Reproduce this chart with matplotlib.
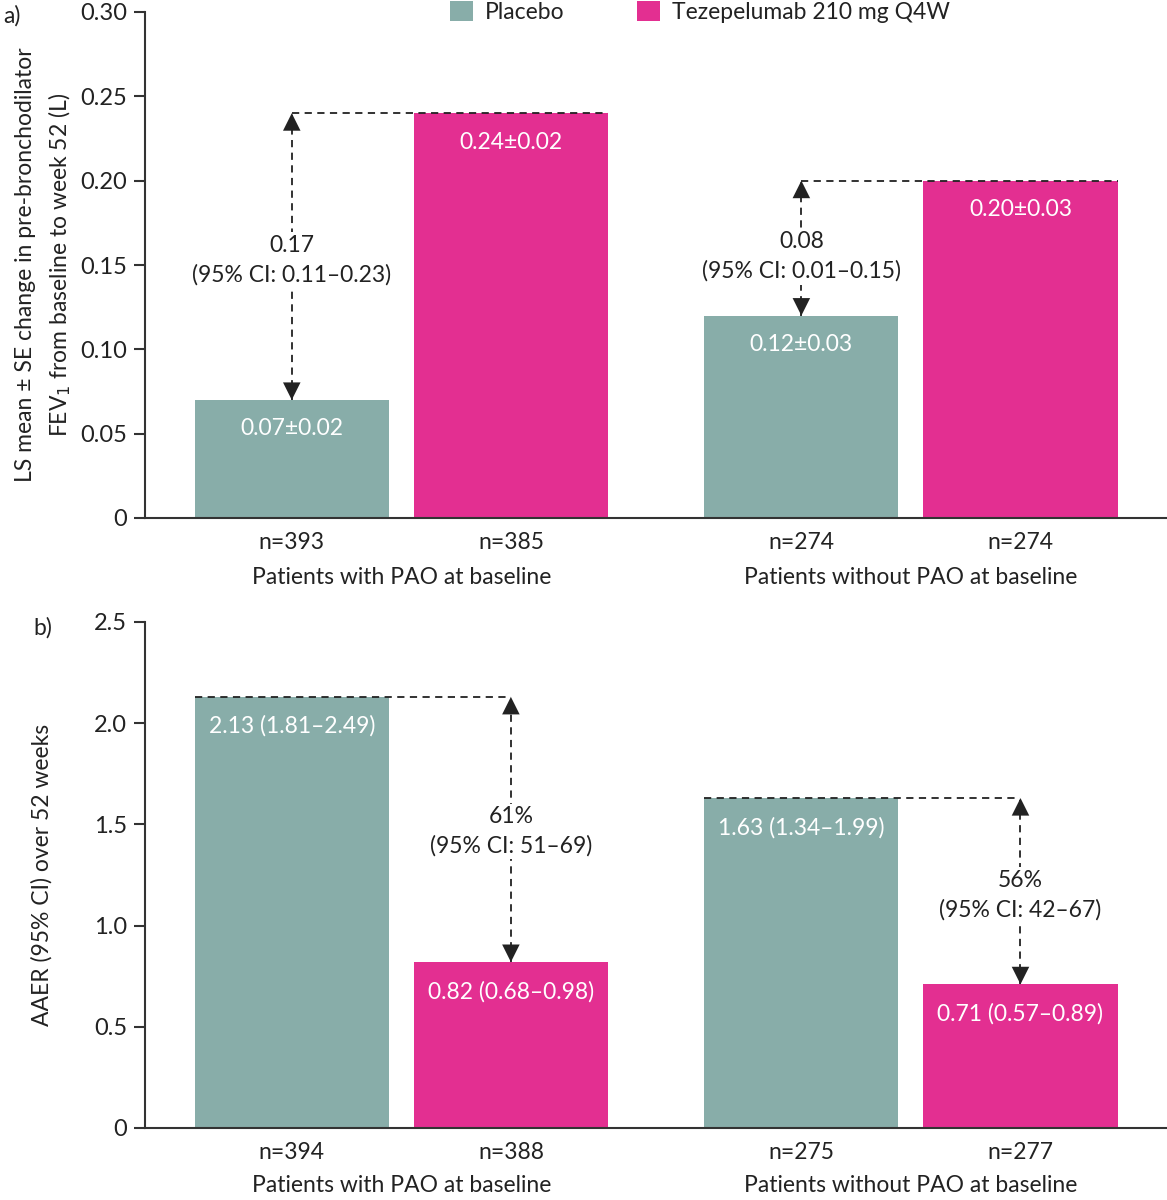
import matplotlib
matplotlib.use("Agg")
import matplotlib.pyplot as plt
import matplotlib.transforms as mtransforms
from matplotlib.patches import Patch

plt.rcParams['font.family'] = ['Lato', 'DejaVu Sans']

# ---- data ----
groups = ["Patients with PAO at baseline", "Patients without PAO at baseline"]
series = ["Placebo", "Tezepelumab 210 mg Q4W"]

fev_placebo = [0.07, 0.12]
fev_tez = [0.24, 0.20]
fev_placebo_lbl = ["0.07±0.02", "0.12±0.03"]
fev_tez_lbl = ["0.24±0.02", "0.20±0.03"]
fev_n_placebo = ["n=393", "n=274"]
fev_n_tez = ["n=385", "n=274"]
fev_diff_lbl = ["0.17\n(95% CI: 0.11–0.23)", "0.08\n(95% CI: 0.01–0.15)"]
fev_yticks = [0, 0.05, 0.10, 0.15, 0.20, 0.25, 0.30]
fev_yticklabels = ["0", "0.05", "0.10", "0.15", "0.20", "0.25", "0.30"]

aaer_placebo = [2.13, 1.63]
aaer_tez = [0.82, 0.71]
aaer_placebo_lbl = ["2.13 (1.81–2.49)", "1.63 (1.34–1.99)"]
aaer_tez_lbl = ["0.82 (0.68–0.98)", "0.71 (0.57–0.89)"]
aaer_n_placebo = ["n=394", "n=275"]
aaer_n_tez = ["n=388", "n=277"]
aaer_diff_lbl = ["61%\n(95% CI: 51–69)", "56%\n(95% CI: 42–67)"]
aaer_yticks = [0, 0.5, 1.0, 1.5, 2.0, 2.5]
aaer_yticklabels = ["0", "0.5", "1.0", "1.5", "2.0", "2.5"]

C_PLA = "#88ADA9"
C_TEZ = "#E32F91"
C_TXT = "#222222"
C_AX = "#333333"
FS = 16.5

W = 0.381
OFF = 0.215
gx = [0, 1]

fig = plt.figure(figsize=(11.67, 12), dpi=100)
ax1 = fig.add_axes([145/1167, 1-518/1200, 1022/1167, 506/1200])
ax2 = fig.add_axes([145/1167, 1-1128/1200, 1022/1167, 506/1200])


def style(ax, yticks, ylabels, ymax):
    ax.set_xlim(-0.503, 1.5025)
    ax.set_ylim(0, ymax)
    for s in ["top", "right"]:
        ax.spines[s].set_visible(False)
    for s in ["left", "bottom"]:
        ax.spines[s].set_color(C_AX)
        ax.spines[s].set_linewidth(1.5)
    ax.set_yticks(yticks)
    ax.set_yticklabels(ylabels, fontsize=17, color=C_TXT)
    ax.tick_params(axis='y', length=8, width=1.5, color=C_AX, pad=5)
    ax.tick_params(axis='x', length=0, pad=10, labelsize=FS, labelcolor=C_TXT)


def arrowhead(ax, x, y, direction):
    ax.annotate('', xy=(x, y), xytext=(0, -16 * direction), textcoords='offset points',
                arrowprops=dict(arrowstyle='-|>,head_length=0.7,head_width=0.35', color=C_TXT,
                                lw=0.01, shrinkA=0, shrinkB=0, mutation_scale=18),
                annotation_clip=False)


def panel(ax, pla, tez, pla_lbl, tez_lbl, n_pla, n_tez, diff_lbl, lbl_off, diff_y, mode):
    xp = [g - OFF for g in gx]
    xt = [g + OFF for g in gx]
    ax.bar(xp, pla, width=W, color=C_PLA, zorder=2)
    ax.bar(xt, tez, width=W, color=C_TEZ, zorder=2)
    for i in range(2):
        ax.text(xp[i], pla[i] - lbl_off, pla_lbl[i], ha='center', va='center', color='white', fontsize=FS, zorder=3)
        ax.text(xt[i], tez[i] - lbl_off, tez_lbl[i], ha='center', va='center', color='white', fontsize=FS, zorder=3)
        hi = max(pla[i], tez[i]); lo = min(pla[i], tez[i])
        if mode == 'a':
            xa = xp[i]
            ax.plot([xa, xt[i] + W/2], [hi, hi], ls=(0, (4, 3)), color=C_TXT, lw=1.3, zorder=4)
        else:
            xa = xt[i]
            ax.plot([xp[i] - W/2, xa], [hi, hi], ls=(0, (4, 3)), color=C_TXT, lw=1.3, zorder=4)
        ax.plot([xa, xa], [lo, hi], ls=(0, (4, 3)), color=C_TXT, lw=1.3, zorder=1)
        arrowhead(ax, xa, hi, 1)
        arrowhead(ax, xa, lo, -1)
        ax.text(xa, diff_y[i], diff_lbl[i], ha='center', va='center', fontsize=FS, color=C_TXT,
                linespacing=1.45, zorder=5,
                bbox=dict(facecolor='white', edgecolor='none', pad=2))
    ax.set_xticks(xp + xt)
    ax.set_xticklabels(n_pla + n_tez)


style(ax1, fev_yticks, fev_yticklabels, 0.30)
panel(ax1, fev_placebo, fev_tez, fev_placebo_lbl, fev_tez_lbl, fev_n_placebo, fev_n_tez,
      fev_diff_lbl, 0.0172, [0.153, 0.155], 'a')
style(ax2, aaer_yticks, aaer_yticklabels, 2.5)
panel(ax2, aaer_placebo, aaer_tez, aaer_placebo_lbl, aaer_tez_lbl, aaer_n_placebo, aaer_n_tez,
      aaer_diff_lbl, 0.145, [1.465, 1.150], 'b')

for ax, yy in [(ax1, 577), (ax2, 1186)]:
    tr = mtransforms.blended_transform_factory(ax.transData, fig.transFigure)
    for i, g in enumerate(gx):
        ax.text(g, 1 - yy/1200, groups[i], transform=tr, ha='center', va='center',
                fontsize=FS, color=C_TXT)

fig.text(44/1167, 1 - 265/1200,
         "LS mean ± SE change in pre-bronchodilator\nFEV$_1$ from baseline to week 52 (L)",
         rotation=90, ha='center', va='center', fontsize=FS, color=C_TXT, linespacing=1.5)
fig.text(42/1167, 1 - 875/1200, "AAER (95% CI) over 52 weeks", rotation=90, ha='center',
         va='center', fontsize=FS, color=C_TXT)
fig.text(3/1167, 1 - 16/1200, "a)", ha='left', va='center', fontsize=FS, color=C_TXT)
fig.text(33/1167, 1 - 628/1200, "b)", ha='left', va='center', fontsize=FS, color=C_TXT)

handles = [Patch(facecolor=C_PLA, edgecolor='none'), Patch(facecolor=C_TEZ, edgecolor='none')]
fig.legend(handles, series, loc='center', bbox_to_anchor=(700/1167, 1 - 12/1200), ncol=2,
           frameon=False, fontsize=FS, handlelength=1.0, handleheight=1.0, columnspacing=3.2,
           handletextpad=0.5, labelcolor=C_TXT, borderaxespad=0, borderpad=0)

fig.savefig("out.png", dpi=100)
